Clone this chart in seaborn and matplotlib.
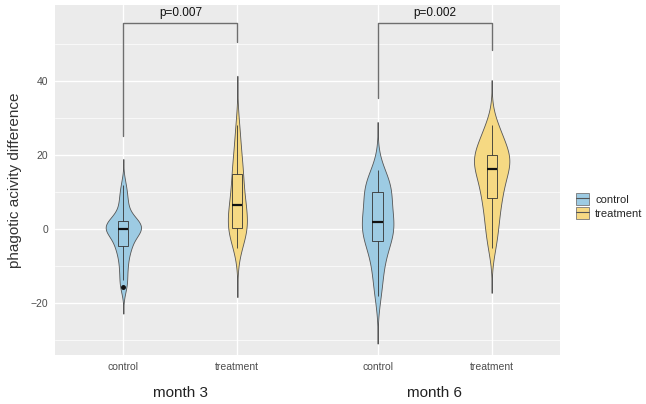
import numpy as np
import pandas as pd
import matplotlib
matplotlib.use("Agg")
import matplotlib.pyplot as plt
import matplotlib.patches as mpatches
import matplotlib.lines as mlines
import matplotlib.transforms as mtransforms
from matplotlib.legend_handler import HandlerTuple
import seaborn as sns

# ---------------------------------------------------------------
# data: phagocytic activity difference per group
# ---------------------------------------------------------------
month3_control = [-15.7, -13.8, -11, -9, -7, -5, -4.5, -4, -2, -1, -0.5, 0,
                  0, 0, 0.5, 1, 1.5, 2, 2.2, 2.5, 5, 7, 9, 11.8]
month3_treatment = [-5, -3, -1, 0, 0, 0, 1, 2, 3, 5, 6, 7, 8, 9, 11, 14,
                    15, 16, 18, 21, 24, 28]
month6_control = [-18, -14, -11, -8, -6, -4, -3, -2, -1, 0, 1, 1.8, 2, 3,
                  4.5, 6, 7.5, 9.8, 10.2, 10.5, 11.5, 12.5, 14, 16]
month6_treatment = [-5, -2, 1, 3, 5, 8, 8.6, 10, 12, 13, 14.5, 16, 16.4,
                    17.5, 18.5, 19, 19.5, 19.7, 20.5, 22, 23.5, 25, 26.5, 28]

groups = ["control", "treatment", "control", "treatment"]
months = ["month 3", "month 3", "month 6", "month 6"]
positions = [1, 2, 3.23, 4.23]
p_labels = ["p=0.007", "p=0.002"]
bracket_top = 55.7
bracket_legs = [(25, 50.5), (35.4, 48.4)]

all_values = [month3_control, month3_treatment, month6_control, month6_treatment]
rows = []
for vals, grp, mon, pos in zip(all_values, groups, months, positions):
    for v in vals:
        rows.append({"value": v, "group": grp, "month": mon, "pos": pos})
df = pd.DataFrame(rows)

palette = {"control": "#9DCBE3", "treatment": "#F6D983"}


def nrd0(kde):
    # R's default bandwidth (bw.nrd0), as ggplot uses
    x = kde.dataset[0]
    sd = x.std(ddof=1)
    q75, q25 = np.percentile(x, [75, 25])
    lo = min(sd, (q75 - q25) / 1.34)
    return 0.9 * lo * len(x) ** -0.2 / sd


# ---------------------------------------------------------------
# plot
# ---------------------------------------------------------------
sns.set_theme(style="darkgrid")
plt.rcParams["font.family"] = ["Liberation Sans", "DejaVu Sans"]

fig = plt.figure(figsize=(6.46, 4.04), dpi=100)
ax = fig.add_axes([0.085, 0.121, 0.782, 0.867])
ax.set_facecolor("#EBEBEB")

# one violin call per month: widths are scaled within each month (like facets)
for mon in ["month 3", "month 6"]:
    sns.violinplot(data=df[df["month"] == mon], x="pos", y="value",
                   hue="group", palette=palette, native_scale=True,
                   dodge=False, inner=None, cut=3, bw_method=nrd0,
                   density_norm="area", common_norm=True, width=0.31,
                   linewidth=0.6, linecolor="#555555", saturation=1,
                   legend=False, ax=ax)

sns.boxplot(data=df, x="pos", y="value", hue="group", palette=palette,
            native_scale=True, dodge=False, width=0.09, whis=1.5,
            linewidth=0.6, linecolor="#333333", saturation=1, legend=False,
            showcaps=False, fliersize=2.5,
            flierprops=dict(marker="o", markerfacecolor="#111111",
                            markeredgecolor="#111111"),
            medianprops=dict(color="#111111", linewidth=1.6), ax=ax)

ax.axhline(0, color="#444444", linestyle=(0, (3, 3)), linewidth=0.6, zorder=0.5)

# significance brackets
for i, (lab, (left_bot, right_bot)) in enumerate(zip(p_labels, bracket_legs)):
    x1, x2 = positions[2 * i], positions[2 * i + 1]
    ax.plot([x1, x1, x2, x2], [left_bot, bracket_top, bracket_top, right_bot],
            color="#6E6E6E", linewidth=1.0, clip_on=False)
    ax.text((x1 + x2) / 2, bracket_top + 1.0, lab, ha="center", va="bottom",
            fontsize=8.5, color="#111111")

ax.set_xlim(0.4, 4.83)
ax.set_ylim(-34, 60.5)
ax.set_xticks(positions)
ax.set_xticklabels(groups)
ax.set_yticks([-20, 0, 20, 40])
ax.set_yticks([-30, -10, 10, 30, 50], minor=True)
ax.grid(which="major", color="white", linewidth=1.0)
ax.grid(which="minor", axis="y", color="white", linewidth=0.5)
ax.tick_params(axis="both", which="major", length=3, width=0.6,
               color="#333333", labelsize=7.5, labelcolor="#4D4D4D", pad=2)
ax.tick_params(which="minor", length=0)
for s in ax.spines.values():
    s.set_visible(False)

ax.set_xlabel("")
ax.set_ylabel("phagotic acivity difference", fontsize=11, color="#333333",
              labelpad=6)

# month labels under each pair
trans = mtransforms.blended_transform_factory(ax.transData, fig.transFigure)
for i in range(2):
    mid = (positions[2 * i] + positions[2 * i + 1]) / 2
    ax.text(mid, 0.027, months[2 * i], transform=trans, ha="center",
            va="center", fontsize=11, color="#222222")

# legend keys: filled box with a median line across it
handles = [(mpatches.Patch(facecolor=palette[g], edgecolor="#777777",
                           linewidth=0.6),
            mlines.Line2D([], [], color="#555555", linewidth=0.8))
           for g in ["control", "treatment"]]
fig.legend(handles=handles, labels=["control", "treatment"],
           handler_map={tuple: HandlerTuple(ndivide=1, pad=0)},
           loc="center left", bbox_to_anchor=(0.885, 0.49),
           frameon=False, fontsize=8, handlelength=1.2, handleheight=1.3,
           handletextpad=0.5, labelspacing=0.2, borderaxespad=0)

fig.savefig("out.png", dpi=100)
